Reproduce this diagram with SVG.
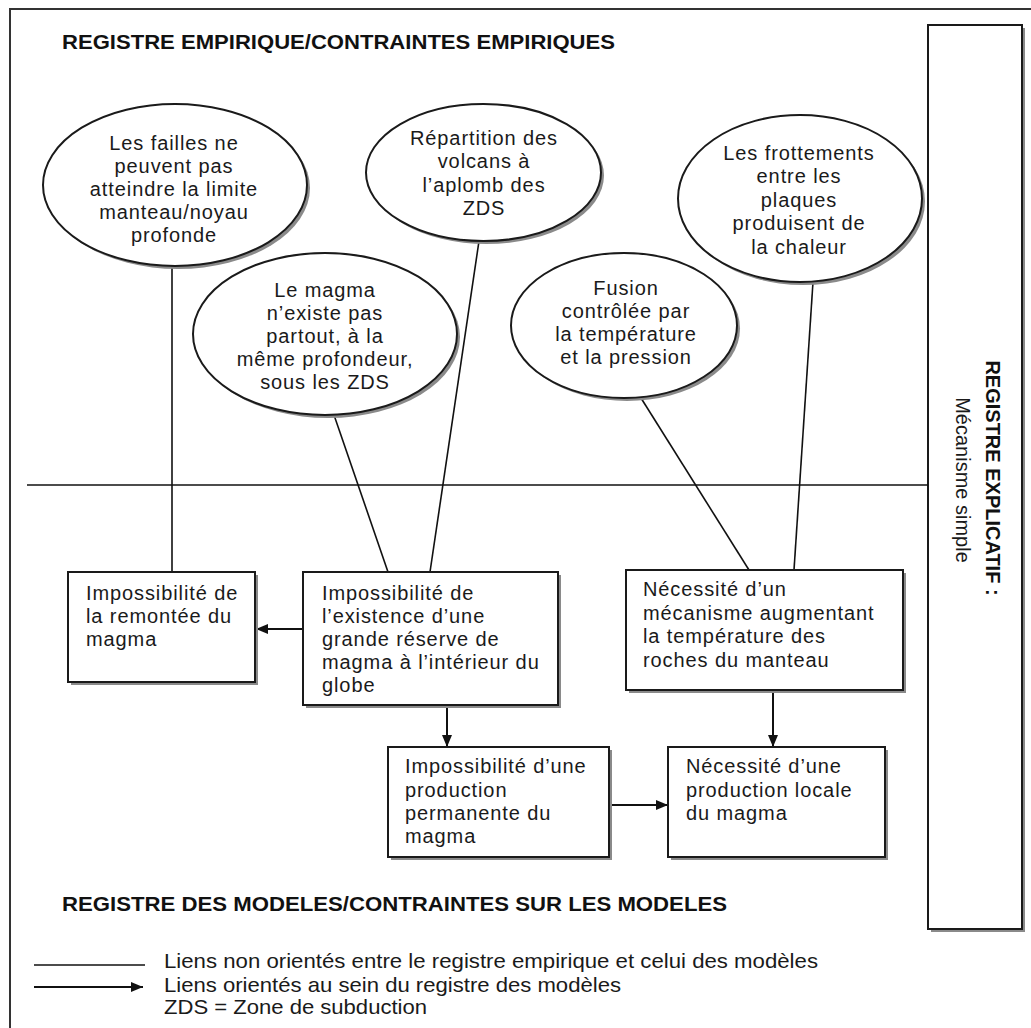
<svg xmlns="http://www.w3.org/2000/svg" width="1031" height="1028" viewBox="0 0 1031 1028">
<defs>
<marker id="arr" markerWidth="12" markerHeight="10" refX="12" refY="5" orient="auto" markerUnits="userSpaceOnUse">
<path d="M0,0 L12,5 L0,10 Z" fill="#111"/>
</marker>
</defs>
<style>
.t{font-family:"Liberation Sans",Arial,Helvetica,sans-serif;font-size:20px;fill:#1a1a1a;letter-spacing:0.9px}
.c{text-anchor:middle}
.title{font-family:"Liberation Sans",Arial,Helvetica,sans-serif;font-size:20px;font-weight:bold;fill:#111}
.leg{font-family:"Liberation Sans",Arial,Helvetica,sans-serif;font-size:21px;fill:#1a1a1a}
.shape{fill:#fff;stroke:#1a1a1a;stroke-width:2}
.shadow{fill:#8a8a8a;stroke:none}
.link{stroke:#111;stroke-width:1.6;fill:none}
.arrow{stroke:#111;stroke-width:2;fill:none;marker-end:url(#arr)}
</style>
<rect x="0" y="0" width="1031" height="1028" fill="#fff"/>
<rect x="10" y="9" width="1040" height="1040" fill="none" stroke="#333" stroke-width="2"/>

<text class="title" x="62" y="49" textLength="553" lengthAdjust="spacingAndGlyphs">REGISTRE EMPIRIQUE/CONTRAINTES EMPIRIQUES</text>
<text class="title" x="62" y="911" textLength="665" lengthAdjust="spacingAndGlyphs">REGISTRE DES MODELES/CONTRAINTES SUR LES MODELES</text>

<g id="registre-explicatif">
<rect class="shadow" x="931" y="28" width="94" height="904"/>
<rect class="shape" x="928" y="25" width="94" height="904"/>
<text class="title c" transform="translate(986,478) rotate(90)">REGISTRE EXPLICATIF :</text>
<text class="leg c" style="font-size:20px" transform="translate(956,480) rotate(90)">Mécanisme simple</text>
</g>

<g id="connectors">
<line class="link" x1="27" y1="485" x2="928" y2="485"/>
<line class="link" x1="172" y1="267" x2="172" y2="572"/>
<line class="link" x1="334" y1="415" x2="388" y2="572"/>
<line class="link" x1="479" y1="241" x2="430" y2="572"/>
<line class="link" x1="641" y1="398" x2="749" y2="570"/>
<line class="link" x1="813" y1="282" x2="794" y2="570"/>
<line class="arrow" x1="303" y1="629" x2="256" y2="629"/>
<line class="arrow" x1="447" y1="705" x2="447" y2="747"/>
<line class="arrow" x1="773" y1="690" x2="773" y2="747"/>
<line class="arrow" x1="609" y1="805" x2="668" y2="805"/>
</g>

<g id="e-failles">
<ellipse class="shadow" cx="178" cy="188" rx="132" ry="81"/>
<ellipse class="shape" cx="175" cy="185" rx="132" ry="81"/>
<text class="t c" x="174" y="150">Les failles ne</text>
<text class="t c" x="174" y="173">peuvent pas</text>
<text class="t c" x="174" y="196">atteindre la limite</text>
<text class="t c" x="174" y="219">manteau/noyau</text>
<text class="t c" x="174" y="242">profonde</text>
</g>

<g id="e-repartition">
<ellipse class="shadow" cx="486.5" cy="175.5" rx="117.5" ry="68.5"/>
<ellipse class="shape" cx="483.5" cy="172.5" rx="117.5" ry="68.5"/>
<text class="t c" x="484" y="145">Répartition des</text>
<text class="t c" x="484" y="168">volcans à</text>
<text class="t c" x="484" y="192">l’aplomb des</text>
<text class="t c" x="484" y="215">ZDS</text>
</g>

<g id="e-magma">
<ellipse class="shadow" cx="328" cy="337" rx="132" ry="81"/>
<ellipse class="shape" cx="325" cy="334" rx="132" ry="81"/>
<text class="t c" x="325" y="297">Le magma</text>
<text class="t c" x="325" y="320">n’existe pas</text>
<text class="t c" x="325" y="343">partout, à la</text>
<text class="t c" x="325" y="366">même profondeur,</text>
<text class="t c" x="325" y="389">sous les ZDS</text>
</g>

<g id="e-fusion">
<ellipse class="shadow" cx="627" cy="328.5" rx="113" ry="72.5"/>
<ellipse class="shape" cx="624" cy="325.5" rx="113" ry="72.5"/>
<text class="t c" x="626" y="295">Fusion</text>
<text class="t c" x="626" y="318">contrôlée par</text>
<text class="t c" x="626" y="341">la température</text>
<text class="t c" x="626" y="364">et la pression</text>
</g>

<g id="e-frottements">
<ellipse class="shadow" cx="803" cy="201.5" rx="122" ry="83.5"/>
<ellipse class="shape" cx="800" cy="198.5" rx="122" ry="83.5"/>
<text class="t c" x="799" y="160">Les frottements</text>
<text class="t c" x="799" y="183">entre les</text>
<text class="t c" x="799" y="207">plaques</text>
<text class="t c" x="799" y="230">produisent de</text>
<text class="t c" x="799" y="254">la chaleur</text>
</g>

<g id="b-remontee">
<rect class="shadow" x="71" y="575" width="187" height="110"/>
<rect class="shape" x="68" y="572" width="187" height="110"/>
<text class="t" x="86" y="600">Impossibilité de</text>
<text class="t" x="86" y="623">la remontée du</text>
<text class="t" x="86" y="646">magma</text>
</g>

<g id="b-reserve">
<rect class="shadow" x="306" y="575" width="255" height="133"/>
<rect class="shape" x="303" y="572" width="255" height="133"/>
<text class="t" x="322" y="600">Impossibilité de</text>
<text class="t" x="322" y="623">l’existence d’une</text>
<text class="t" x="322" y="646">grande réserve de</text>
<text class="t" x="322" y="669">magma à l’intérieur du</text>
<text class="t" x="322" y="692">globe</text>
</g>

<g id="b-mecanisme">
<rect class="shadow" x="629" y="573" width="277" height="120"/>
<rect class="shape" x="626" y="570" width="277" height="120"/>
<text class="t" x="643" y="596">Nécessité d’un</text>
<text class="t" x="643" y="620">mécanisme augmentant</text>
<text class="t" x="643" y="643">la température des</text>
<text class="t" x="643" y="667">roches du manteau</text>
</g>

<g id="b-permanente">
<rect class="shadow" x="391" y="750" width="221" height="110"/>
<rect class="shape" x="388" y="747" width="221" height="110"/>
<text class="t" x="405" y="773">Impossibilité d’une</text>
<text class="t" x="405" y="797">production</text>
<text class="t" x="405" y="820">permanente du</text>
<text class="t" x="405" y="843">magma</text>
</g>

<g id="b-locale">
<rect class="shadow" x="671" y="750" width="217" height="110"/>
<rect class="shape" x="668" y="747" width="217" height="110"/>
<text class="t" x="686" y="773">Nécessité d’une</text>
<text class="t" x="686" y="797">production locale</text>
<text class="t" x="686" y="820">du magma</text>
</g>

<g id="legend">
<line class="link" x1="34" y1="965" x2="145" y2="965"/>
<line class="arrow" x1="34" y1="987" x2="143" y2="987"/>
<text class="leg" x="164" y="968" textLength="654" lengthAdjust="spacingAndGlyphs">Liens non orientés entre le registre empirique et celui des modèles</text>
<text class="leg" x="164" y="992" textLength="457" lengthAdjust="spacingAndGlyphs">Liens orientés au sein du registre des modèles</text>
<text class="leg" x="164" y="1014" textLength="263" lengthAdjust="spacingAndGlyphs">ZDS = Zone de subduction</text>
</g>
</svg>
